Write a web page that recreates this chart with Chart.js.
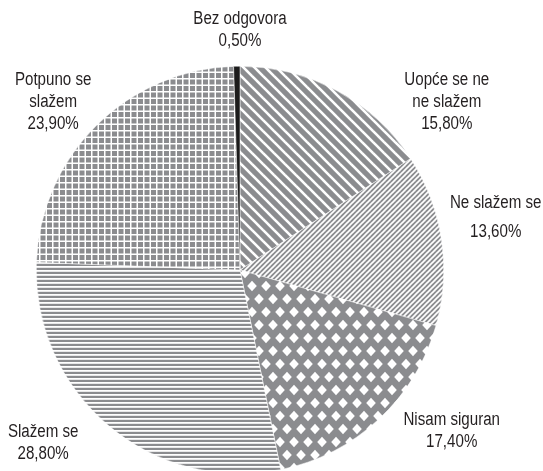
<!DOCTYPE html>
<html>
<head>
<meta charset="utf-8">
<script src="https://cdn.jsdelivr.net/npm/chart.js@4.4.1/dist/chart.umd.min.js"></script>
<style>
  html, body { margin: 0; padding: 0; background: #ffffff; overflow: hidden; }
  #wrap { width: 543px; height: 480px; position: relative; }
</style>
</head>
<body>
<div id="wrap"><canvas id="c" width="543" height="480"></canvas></div>
<script>
// ---- data ----
const categories = ["Uopće se ne ne slažem", "Ne slažem se", "Nisam siguran", "Slažem se", "Potpuno se slažem", "Bez odgovora"];
const labelLines = [["Uopće se ne", "ne slažem"], ["Ne slažem se"], ["Nisam siguran"], ["Slažem se"], ["Potpuno se", "slažem"], ["Bez odgovora"]];
const values = [15.8, 13.6, 17.4, 28.8, 23.9, 0.5];
const valueLabels = ["15,80%", "13,60%", "17,40%", "28,80%", "23,90%", "0,50%"];

// ---- label anchors, in units of the pie radius relative to the pie centre ----
const labelAnchor = [
  {dx: 1.015, dy: -0.824, gap: 0},
  {dx: 1.255, dy: -0.257, gap: 7},
  {dx: 1.039, dy: 0.789, gap: 0},
  {dx: -0.966, dy: 0.850, gap: 0},
  {dx: -0.917, dy: -0.824, gap: 0},
  {dx: 0.000, dy: -1.176, gap: 0}
];

const GRAY = '#8b8c8f';

function makeTile(w, h, draw) {
  const c = document.createElement('canvas');
  c.width = w; c.height = h;
  const g = c.getContext('2d');
  g.fillStyle = GRAY; g.fillRect(0, 0, w, h);
  g.fillStyle = '#ffffff'; g.strokeStyle = '#ffffff';
  draw(g, w, h);
  return document.createElement('canvas').getContext('2d').createPattern(c, 'repeat');
}

// wide "\" stripes
const patWideDiag = makeTile(11, 11, (g, w, h) => {
  g.lineWidth = 2.6;
  for (let k = -1; k <= 1; k++) {
    g.beginPath(); g.moveTo(k * w - 2, -2); g.lineTo(k * w + w + 2, h + 2); g.stroke();
  }
});
// fine "/" stripes
const patFineDiag = makeTile(5, 5, (g, w, h) => {
  g.lineWidth = 1.7;
  for (let k = -1; k <= 1; k++) {
    g.beginPath(); g.moveTo(k * w - 2, h + 2); g.lineTo(k * w + w + 2, -2); g.stroke();
  }
});
// white diamonds on gray, staggered rows
const patDiamond = makeTile(14, 26, (g, w, h) => {
  const dx = 4.8, dy = 5.2;
  const centres = [[0, 0], [14, 0], [0, 26], [14, 26], [7, 13]];
  centres.forEach(([x, y]) => {
    g.beginPath();
    g.moveTo(x, y - dy); g.lineTo(x + dx, y); g.lineTo(x, y + dy); g.lineTo(x - dx, y); g.closePath();
    g.fill();
  });
});
// horizontal lines
const patHoriz = makeTile(4, 4, (g, w, h) => {
  g.fillRect(0, 2, w, 1.8);
});
// grid
const patGrid = makeTile(13, 13, (g, w, h) => {
  g.fillRect(0, 0, w, 1.5); g.fillRect(0, 6.5, w, 1.5);
  g.fillRect(0, 0, 1.5, h); g.fillRect(6.5, 0, 1.5, h);
});

const fills = [patWideDiag, patFineDiag, patDiamond, patHoriz, patGrid, '#1c1c1c'];

const FONT = '"Liberation Sans", Arial, sans-serif';
const FONT_SIZE = 18;
const FONT_SQUEEZE = 0.84;
const LINE_H = 22;

const labelPlugin = {
  id: 'pieLabels',
  afterDatasetsDraw(chart) {
    const meta = chart.getDatasetMeta(0);
    const ctx = chart.ctx;
    meta.data.forEach((arc, i) => {
      const r = arc.outerRadius;
      const a = labelAnchor[i];
      const cx = arc.x + a.dx * r;
      const cy = arc.y + a.dy * r;
      const lines = labelLines[i].concat([valueLabels[i]]);
      const total = (lines.length - 1) * LINE_H + a.gap;
      let y = cy - total / 2;
      lines.forEach((t, j) => {
        if (j === lines.length - 1) y += a.gap;
        ctx.save();
        ctx.font = FONT_SIZE + 'px ' + FONT;
        ctx.fillStyle = '#231f20';
        ctx.textAlign = 'center';
        ctx.textBaseline = 'middle';
        ctx.translate(cx, y);
        ctx.scale(FONT_SQUEEZE, 1);
        ctx.fillText(t, 0, 0);
        ctx.restore();
        y += LINE_H;
      });
    });
  }
};

new Chart(document.getElementById('c'), {
  type: 'pie',
  data: {
    labels: categories,
    datasets: [{
      data: values,
      backgroundColor: fills,
      borderColor: '#ffffff',
      borderWidth: 0.5
    }]
  },
  options: {
    responsive: false,
    animation: false,
    rotation: 0,
    layout: { padding: { left: 36, right: 99, top: 66, bottom: 6 } },
    plugins: {
      legend: { display: false },
      tooltip: { enabled: false }
    }
  },
  plugins: [labelPlugin]
});
</script>
</body>
</html>
